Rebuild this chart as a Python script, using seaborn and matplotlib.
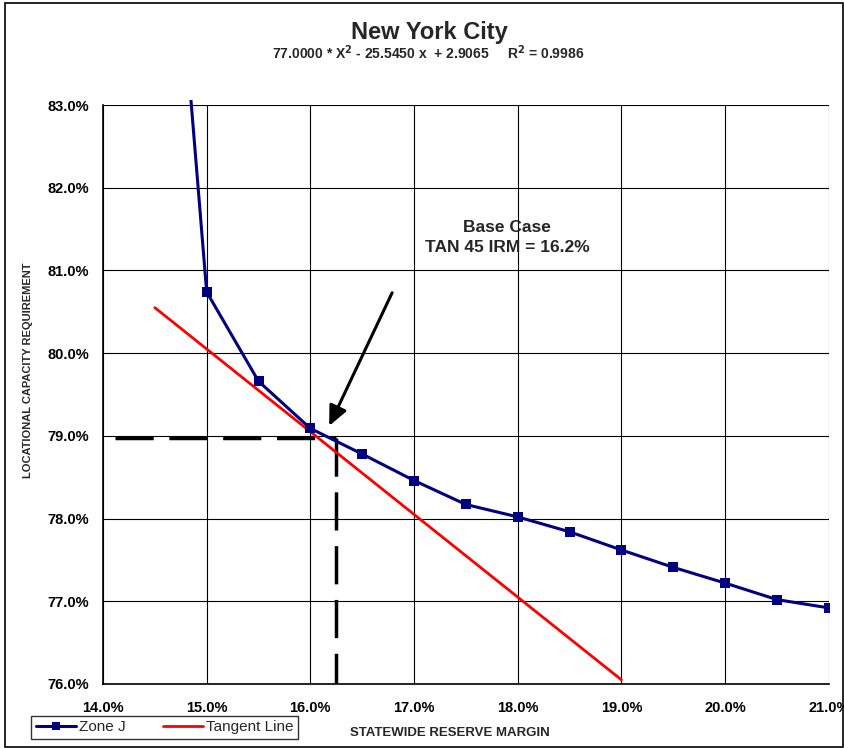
import numpy as np
import pandas as pd
import matplotlib
matplotlib.use("Agg")
import matplotlib.pyplot as plt
import seaborn as sns
from matplotlib.patches import Rectangle
from matplotlib.ticker import FuncFormatter

# Zone J curve (statewide reserve margin %, locational capacity requirement %)
irm = [14.5, 15.0, 15.5, 16.0, 16.5, 17.0, 17.5, 18.0, 18.5, 19.0, 19.5, 20.0, 20.5, 21.0]
lcr = [88.40, 80.74, 79.66, 79.09, 78.78, 78.46, 78.17, 78.02, 77.84, 77.62, 77.41, 77.22, 77.02, 76.92]

# tangent line end points
tan_x = [14.5, 19.0]
tan_y = [80.55, 76.05]

# base case point
base_irm = 16.25
base_lcr = 78.98

sns.set_style("white")
plt.rcParams['font.family'] = ['Liberation Sans', 'DejaVu Sans']

zone = pd.DataFrame({"x": irm, "y": lcr, "series": "Zone J"})
tan = pd.DataFrame({"x": tan_x, "y": tan_y, "series": "Tangent Line"})

fig = plt.figure(figsize=(8.44, 7.48), dpi=100)
ax = fig.add_axes([0.122, 0.0856, 0.860, 0.774])

sns.lineplot(data=tan, x="x", y="y", color="#ff0000", lw=2, ax=ax, sort=False,
             label="Tangent Line", zorder=3)
sns.lineplot(data=zone, x="x", y="y", color="#000080", lw=2.2, marker="s",
             markersize=7, markeredgewidth=0, ax=ax, sort=False, label="Zone J", zorder=4)

# plot area clips a few pixels above the top gridline, like the original chart
clip = Rectangle((0, 0), 1.0, 1.009, transform=ax.transAxes, visible=False)
ax.add_patch(clip)
ax.lines[-1].set_clip_path(clip)

# dashed guide lines
ax.plot([14.12, base_irm], [base_lcr, base_lcr], color="black", lw=2.5, dashes=(11, 4.5), zorder=2)
ax.plot([base_irm, base_irm], [base_lcr, 76.0], color="black", lw=2.5, dashes=(11, 4.5), zorder=2)

ax.annotate("", xy=(16.17, 79.09), xytext=(16.8, 80.76),
            arrowprops=dict(arrowstyle="-|>,head_length=1.2,head_width=0.55",
                            color="black", lw=2.2))
ax.text(17.9, 81.52, "Base Case", ha="center", va="center", fontsize=12.5, fontweight="bold")
ax.text(17.9, 81.28, "TAN 45 IRM = 16.2%", ha="center", va="center", fontsize=12.5, fontweight="bold")

ax.set_xlim(14, 21)
ax.set_ylim(76, 83)
ax.set_xticks(np.arange(14, 21.01, 1))
ax.set_yticks(np.arange(76, 83.01, 1))
ax.xaxis.set_major_formatter(FuncFormatter(lambda v, p: f"{v:.1f}%"))
ax.yaxis.set_major_formatter(FuncFormatter(lambda v, p: f"{v:.1f}%"))
ax.grid(True, color="black", lw=0.8)
ax.tick_params(axis="both", direction="out", length=5, width=1, colors="black", labelsize=10.5)
ax.tick_params(axis="x", pad=7)
ax.tick_params(axis="y", pad=5)
for lab in ax.get_xticklabels() + ax.get_yticklabels():
    lab.set_fontweight("bold")
for s in ["top", "right"]:
    ax.spines[s].set_visible(False)
for s in ["left", "bottom"]:
    ax.spines[s].set_color("black")
    ax.spines[s].set_linewidth(1.2)

ax.set_xlabel("")
ax.set_ylabel("")
fig.text(0.033, 0.505, "LOCATIONAL CAPACITY REQUIREMENT", rotation=90, ha="center",
         va="center", fontsize=8, fontweight="bold")
fig.text(0.415, 0.020, "STATEWIDE RESERVE MARGIN", ha="left", va="center",
         fontsize=9.5, fontweight="bold")

fig.text(0.509, 0.956, "New York City", ha="center", va="center", fontsize=17, fontweight="bold")
fig.text(0.507, 0.930, r"77.0000 * X$^\mathbf{2}$ - 25.5450 x  + 2.9065     R$^\mathbf{2}$ = 0.9986",
         ha="center", va="center", fontsize=10, fontweight="bold")

handles, labels = ax.get_legend_handles_labels()
order = [labels.index("Zone J"), labels.index("Tangent Line")]
leg = ax.legend([handles[i] for i in order], [labels[i] for i in order],
                loc="lower left", bbox_to_anchor=(0.028, 0.002), bbox_transform=fig.transFigure,
                ncol=2, frameon=True, fancybox=False, edgecolor="black", fontsize=11,
                handlelength=2.6, handletextpad=0.2, columnspacing=2.5, borderpad=0.3,
                markerscale=0.8)
leg.get_frame().set_linewidth(1)

fig.patches.append(Rectangle((0.006, 0.002), 0.993, 0.994, transform=fig.transFigure,
                             fill=False, edgecolor="black", lw=1.2))

fig.savefig("out.png", dpi=100)
